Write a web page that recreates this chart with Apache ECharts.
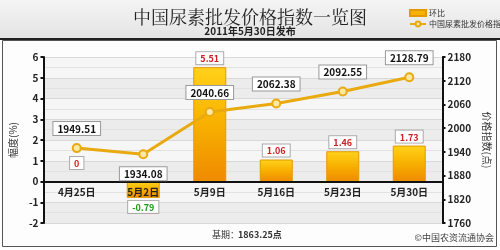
<!DOCTYPE html>
<html lang="zh">
<head>
<meta charset="UTF-8">
<title>中国尿素批发价格指数一览图</title>
<script src="https://cdn.jsdelivr.net/npm/echarts@6/dist/echarts.min.js"></script>
<style>
  html, body { margin: 0; padding: 0; background: #fff; }
  #main { width: 500px; height: 250px; }
</style>
</head>
<body>
<div id="main"></div>
<script type="text/javascript">
// data
var dates = ['4月25日', '5月2日', '5月9日', '5月16日', '5月23日', '5月30日'];
var changePct = [0, -0.79, 5.51, 1.06, 1.46, 1.73];        // 环比 (%)
var priceIndex = [1949.51, 1934.08, 2040.66, 2062.38, 2092.55, 2128.79]; // 价格指数
var leftTicks = [-2, 6, 1];        // min, max, interval
var rightTicks = [1760, 2180, 60];

var font = '"Noto Sans CJK SC", "DejaVu Sans", sans-serif';

var gridTop = 57, gridBottom = 27, gridHeight = 250 - gridTop - gridBottom;
// move the category axis up to the zero of the left axis
var zeroOffset = -gridHeight * (0 - leftTicks[0]) / (leftTicks[1] - leftTicks[0]);

var barData = [];
for (var i = 0; i < changePct.length; i++) {
  var item = { value: changePct[i] };
  if (changePct[i] < 0) {
    item.label = { position: 'bottom', color: '#1a9a1a', distance: 3 };
  } else if (changePct[i] === 0) {
    item.label = { distance: 12 };
  }
  barData.push(item);
}

var lineData = [];
for (var j = 0; j < priceIndex.length; j++) {
  var p = { value: priceIndex[j] };
  if (j === 1) p.label = { position: 'bottom' };
  lineData.push(p);
}

var chart = echarts.init(document.getElementById('main'));
chart.setOption({
  animation: false,
  textStyle: { fontFamily: font },
  graphic: [
    { type: 'rect', z: -10, shape: { x: 0, y: 0, width: 500, height: 39 },
      style: { fill: new echarts.graphic.LinearGradient(0, 0, 0, 1, [
        { offset: 0, color: '#f4f4f4' }, { offset: 1, color: '#e4e4e4' }]) } },
    { type: 'rect', z: -10, shape: { x: 0, y: 38, width: 500, height: 2 },
      style: { fill: '#222' } },
    { type: 'rect', z: -10, shape: { x: 2.5, y: 40.5, width: 494, height: 206 },
      style: { fill: '#fdfdfd', stroke: '#555', lineWidth: 1 } },
    { type: 'text', left: 212, top: 230,
      style: { text: '基期：', font: '9px ' + font, fill: '#333' } },
    { type: 'text', left: 238, top: 230,
      style: { text: '1863.25点', font: 'bold 9px ' + font, fill: '#333' } },
    { type: 'text', right: 6, top: 233,
      style: { text: '©中国农资流通协会', font: '9px ' + font, fill: '#444' } }
  ],
  title: {
    text: '中国尿素批发价格指数一览图',
    subtext: '2011年5月30日发布',
    left: 'center', top: 3, itemGap: 0,
    textStyle: { fontSize: 18, fontWeight: 'normal', color: '#222', fontFamily: '"Noto Serif CJK SC", ' + font },
    subtextStyle: { fontSize: 10, fontWeight: 'bold', color: '#222' }
  },
  legend: {
    orient: 'vertical', left: 404, top: 4, itemGap: 3,
    itemWidth: 16, itemHeight: 6,
    textStyle: { fontSize: 8, color: '#333', padding: [0, 0, 0, -2] },
    data: [
      { name: '环比', icon: 'rect', itemStyle: { color: '#f3b300' } },
      { name: '中国尿素批发价格指数' }
    ]
  },
  grid: { left: 40, right: 55, top: gridTop, bottom: gridBottom },
  xAxis: {
    type: 'category', data: dates, z: 3, offset: zeroOffset,
    axisLine: { onZero: false, lineStyle: { color: '#111', width: 2 } },
    axisTick: { inside: true, length: 5, lineStyle: { color: '#111', width: 2 } },
    axisLabel: { fontSize: 10, fontWeight: 'bold', color: '#222', margin: 6 }
  },
  yAxis: [
    {
      type: 'value', min: leftTicks[0], max: leftTicks[1], interval: leftTicks[2],
      name: '幅度(%)', nameLocation: 'middle', nameGap: 22,
      nameTextStyle: { fontSize: 10, color: '#333' },
      axisLine: { show: true, lineStyle: { color: '#111', width: 2 } },
      axisTick: { show: true, length: 3, lineStyle: { color: '#111', width: 2 } },
      axisLabel: { fontSize: 10, fontWeight: 'bold', color: '#222', margin: 5 },
      splitLine: { show: true, lineStyle: { color: '#d8d8d8' } },
      minorTick: { show: false, splitNumber: 2 },
      minorSplitLine: { show: true, lineStyle: { color: '#e2e2e2' } },
      splitArea: { show: true, areaStyle: { color: ['#ececec', '#f6f6f6'] } }
    },
    {
      type: 'value', min: rightTicks[0], max: rightTicks[1], interval: rightTicks[2],
      name: '价格指数(点)', nameLocation: 'middle', nameGap: 32, nameRotate: -90,
      nameTextStyle: { fontSize: 10, color: '#333' },
      axisLine: { show: true, lineStyle: { color: '#111', width: 2 } },
      axisTick: { show: true, length: 3, lineStyle: { color: '#111', width: 2 } },
      axisLabel: { fontSize: 10, fontWeight: 'bold', color: '#222', margin: 5,
        formatter: function (v) { return String(v); } },
      splitLine: { show: false }
    }
  ],
  series: [
    {
      name: '环比', type: 'bar', yAxisIndex: 0, barWidth: 33,
      data: barData,
      itemStyle: {
        color: new echarts.graphic.LinearGradient(0, 0, 0, 1, [
          { offset: 0, color: '#ffd21a' }, { offset: 0.5, color: '#f8b000' }, { offset: 1, color: '#ef8a00' }]),
        borderColor: '#e49a00', borderWidth: 1
      },
      label: {
        show: true, position: 'top', distance: 3,
        fontSize: 9, fontWeight: 'bold', color: '#d02020',
        backgroundColor: '#fff', borderColor: '#aaa', borderWidth: 1,
        padding: [2, 4, 1, 4]
      }
    },
    {
      name: '中国尿素批发价格指数', type: 'line', yAxisIndex: 1,
      data: lineData,
      lineStyle: { color: '#e9aa10', width: 3 },
      itemStyle: { color: '#fbe7a6', borderColor: '#e9aa10', borderWidth: 2 },
      symbol: 'circle', symbolSize: 8, z: 4,
      label: {
        show: true, position: 'top', distance: 8,
        fontSize: 10, fontWeight: 'bold', color: '#111',
        backgroundColor: '#fff', borderColor: '#999', borderWidth: 1,
        padding: [2, 4, 1, 4]
      }
    }
  ]
});
</script>
</body>
</html>
